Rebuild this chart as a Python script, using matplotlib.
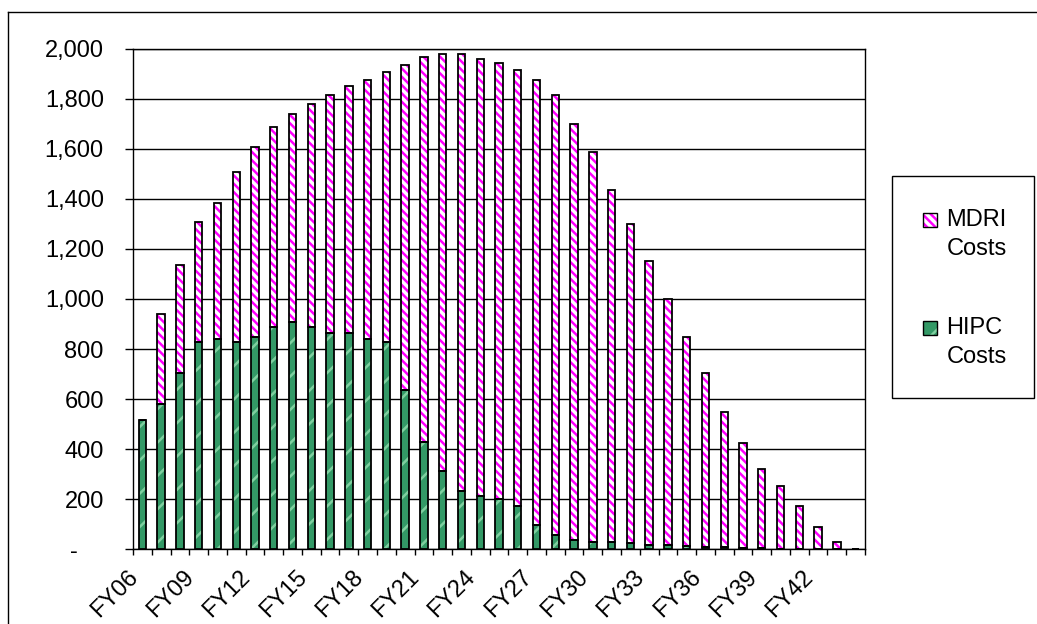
import matplotlib.pyplot as plt
from matplotlib.patches import Rectangle
from matplotlib.lines import Line2D
from matplotlib.transforms import ScaledTranslation
import numpy as np

plt.rcParams['font.family'] = ['Liberation Sans', 'DejaVu Sans']
plt.rcParams['hatch.linewidth'] = 1.8

years = ['FY%02d' % y for y in range(6, 45)]
hipc = [515, 580, 703, 828, 841, 828, 848, 888, 908, 888, 863, 863, 841, 828, 635,
        429, 312, 233, 212, 200, 173, 96, 56, 36, 29, 29, 23, 16, 16, 14,
        8, 8, 6, 3, 2, 1, 0, 0, 0]
mdri = [0, 361, 433, 479, 544, 681, 760, 799, 831, 891, 954, 988, 1036, 1081, 1302,
        1540, 1669, 1748, 1749, 1743, 1743, 1780, 1761, 1663, 1559, 1407, 1277, 1135, 983, 834,
        696, 539, 417, 316, 250, 172, 88, 27, 0]

W, H = 1037, 624
fig = plt.figure(figsize=(W / 100, H / 100), dpi=100)
ax = fig.add_axes([133 / W, 1 - 549 / H, 732 / W, 500 / H])

x = np.arange(len(years))
bw = 0.39
green = '#339966'
magenta = '#FF00FF'
fs = 17

# fills with hatching, then black outlines on top
ax.bar(x, hipc, bw, color=green, edgecolor='#7fcf9f', hatch='/', linewidth=0, zorder=3)
ax.bar(x, mdri, bw, bottom=hipc, color='white', edgecolor=magenta,
       hatch='\\\\\\\\', linewidth=0, zorder=3)
ax.bar(x, hipc, bw, fill=False, edgecolor='black', linewidth=1.3, zorder=4)
ax.bar(x, mdri, bw, bottom=hipc, fill=False, edgecolor='black', linewidth=1.3, zorder=4)

ax.set_xlim(-0.5, len(years) - 0.5)
ax.set_ylim(0, 2000)
yt = np.arange(0, 2001, 200)
ax.set_yticks(yt)
ax.set_yticklabels(['-    '] + ['{:,}'.format(v) for v in yt[1:]])
ax.yaxis.grid(True, color='black', linewidth=1)
ax.set_axisbelow(True)

ax.set_xticks(x[::3])
ax.set_xticklabels(years[::3], rotation=45, ha='right', va='center', rotation_mode='anchor')
ax.set_xticks(np.arange(-0.5, len(years), 1), minor=True)
ax.tick_params(axis='x', which='major', length=0, pad=15, labelsize=fs)
ax.tick_params(axis='x', which='minor', length=4.3, width=1, direction='out')
ax.tick_params(axis='y', length=6, width=1, pad=15, labelsize=fs, direction='out')
for s in ax.spines.values():
    s.set_color('black')
    s.set_linewidth(1)

fig.canvas.draw()
shift = ScaledTranslation(-0.08, -0.04, fig.dpi_scale_trans)
for lab in ax.get_xticklabels():
    lab.set_transform(lab.get_transform() + shift)

# outer chart border
fig.add_artist(Line2D([8 / W, 8 / W], [0, 1 - 12 / H], color='black', lw=1, transform=fig.transFigure))
fig.add_artist(Line2D([8 / W, 1], [1 - 12 / H, 1 - 12 / H], color='black', lw=1, transform=fig.transFigure))

# legend box
fig.add_artist(Rectangle((892 / W, 1 - 398 / H), 142 / W, 222 / H, facecolor='white',
                         edgecolor='black', lw=1, transform=fig.transFigure))
entries = [('MDRI', 'white', magenta, '\\\\\\\\', 220), ('HIPC', green, '#7fcf9f', '/', 328)]
for name, fc, hc, hatch, yc in entries:
    fig.add_artist(Rectangle((923 / W, 1 - (yc + 7) / H), 14 / W, 14 / H, facecolor=fc,
                             edgecolor=hc, hatch=hatch, lw=0, transform=fig.transFigure))
    fig.add_artist(Rectangle((923 / W, 1 - (yc + 7) / H), 14 / W, 14 / H, fill=False,
                             edgecolor='black', lw=1, transform=fig.transFigure))
    fig.text(946 / W, 1 - yc / H, name, fontsize=fs, va='center', ha='left')
    fig.text(947 / W, 1 - (yc + 29) / H, 'Costs', fontsize=fs, va='center', ha='left')

fig.savefig('out.png', dpi=100)
